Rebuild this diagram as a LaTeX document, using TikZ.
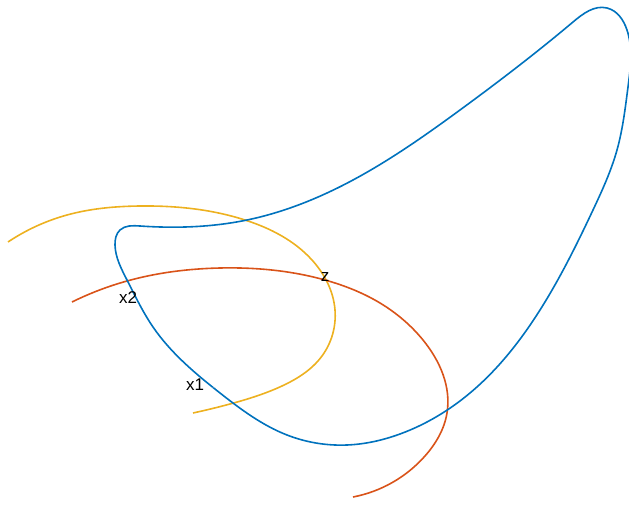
\documentclass[tikz,border=0pt]{standalone}
\usepackage{fontspec}
\setmainfont{Liberation Sans}
\usetikzlibrary{hobby}
\definecolor{mblue}{RGB}{0,114,189}
\definecolor{mred}{RGB}{217,83,25}
\definecolor{myellow}{RGB}{237,177,32}
\tikzset{curve/.style={line width=1.6pt,use Hobby shortcut},
         lbl/.style={font=\fontsize{17}{19}\selectfont,inner sep=0pt}}
\begin{document}
\begin{tikzpicture}[x=1pt,y=-1pt]
\useasboundingbox (0,0) rectangle (629,513);
% yellow curve
\draw[curve,myellow] (8,242)..(67,215)..(140,206)..(245,220)..(312,260)..(335,310)..(322,356)..(282,386)..(230,404)..(193,413);
% red curve
\draw[curve,mred] (72,302)..(127,281)..(220,268)..(325,280)..(380,303)..(423,340)..(447,413)..(425,456)..(353,497);
% blue loop
\draw[curve,mblue,closed=true] (120,230)..(140,226)..(247,220)..(353,180)..(460,110)..(573,22)..(607,8)..(627,30)..(628,87)..(617,150)..(593,210)..(540,310)..(470,393)..(400,434)..(347,445)..(287,435)..(220,393)..(153,327)..(127,280)..(115,245);
% labels
\node[lbl] (x2) at (128,298) {x2};
\node[lbl] (z) at (325,277) {z};
\node[lbl] (x1) at (195,385) {x1};
\node[lbl,gray!40,font=\scriptsize] (dots) at (214,388) {..};
\end{tikzpicture}
\end{document}
